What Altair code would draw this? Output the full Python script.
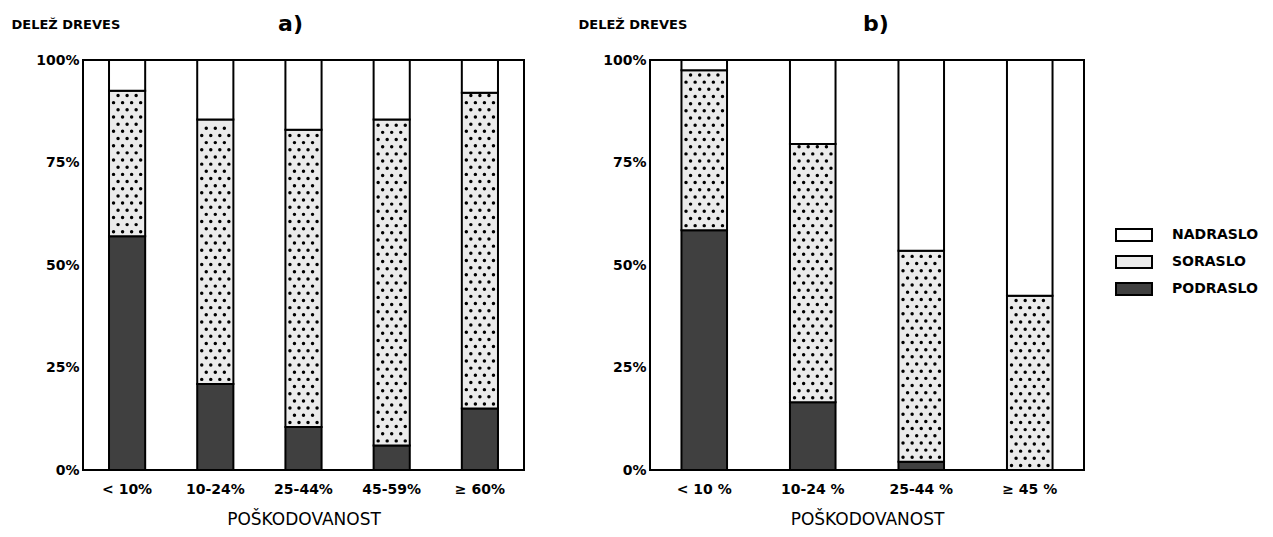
import altair as alt
import pandas as pd

groups = ["NADRASLO", "SORASLO", "PODRASLO"]
fills = ["#ffffff", "#ebebeb", "#404040"]

classes_a = ["< 10%", "10-24%", "25-44%", "45-59%", "≥ 60%"]
podraslo_a = [57, 21, 10.5, 6, 15]
soraslo_a = [35.5, 64.5, 72.5, 79.5, 77]
nadraslo_a = [7.5, 14.5, 17, 14.5, 8]

classes_b = ["< 10 %", "10-24 %", "25-44 %", "≥ 45 %"]
podraslo_b = [58.5, 16.5, 2, 0]
soraslo_b = [39, 63, 51.5, 42.5]
nadraslo_b = [2.5, 20.5, 46.5, 57.5]

FONT = "DejaVu Sans"


def make_df(classes, pod, sor, nad):
    rows = []
    for c, p, s, n in zip(classes, pod, sor, nad):
        rows.append({"cls": c, "grp": "PODRASLO", "val": p, "ord": 0})
        rows.append({"cls": c, "grp": "SORASLO", "val": s, "ord": 1})
        rows.append({"cls": c, "grp": "NADRASLO", "val": n, "ord": 2})
    return pd.DataFrame(rows)


def panel(classes, pod, sor, nad, label, w, pin, ncol, tdx):
    df = make_df(classes, pod, sor, nad)
    n = len(classes)
    # extent of the SORASLO segment of each bar (for the dotted texture)
    dfd = pd.DataFrame({
        "idx": list(range(n)),
        "lo": pod,
        "hi": [p + s for p, s in zip(pod, sor)],
    })

    x_axis = alt.Axis(
        title="POŠKODOVANOST", labelAngle=0, labelFontSize=14,
        labelFontWeight="bold", labelFont=FONT, labelPadding=12,
        titleFontSize=17, titleFontWeight="normal", titleFont=FONT,
        titlePadding=15, domain=False, ticks=False,
        labelColor="black", titleColor="black",
    )
    y_axis = alt.Axis(
        values=[0, 25, 50, 75, 100],
        labelExpr="datum.value + '%'",
        labelFontSize=14, labelFontWeight="bold", labelFont=FONT,
        labelPadding=4, domain=False, ticks=False, grid=False,
        title="DELEŽ DREVES", titleAngle=0, titleAlign="left",
        titleBaseline="middle", titleX=-72, titleY=-36,
        titleFontSize=13, titleFontWeight="bold", titleFont=FONT,
        labelColor="black", titleColor="black",
    )
    xscale = alt.Scale(paddingInner=pin, paddingOuter=pin / 2)
    yscale = alt.Scale(domain=[0, 100], nice=False)

    bars = (
        alt.Chart(df)
        .mark_bar(stroke="black", strokeWidth=2)
        .encode(
            x=alt.X("cls:N", sort=classes, scale=xscale, axis=x_axis),
            y=alt.Y("val:Q", stack="zero", scale=yscale, axis=y_axis),
            color=alt.Color(
                "grp:N",
                scale=alt.Scale(domain=groups, range=fills),
                legend=alt.Legend(
                    title=None, orient="none", legendX=1038, legendY=162,
                    symbolType="M-1.5,-0.5H1.5V0.5H-1.5Z", symbolSize=576,
                    symbolStrokeColor="black", symbolStrokeWidth=2,
                    symbolOpacity=1,
                    labelFontSize=14, labelFontWeight="bold", labelFont=FONT,
                    labelOffset=25, rowPadding=4, labelColor="black",
                ),
            ),
            order=alt.Order("ord:Q"),
        )
    )

    step = 1.75
    frac = 1 - pin
    dots = (
        alt.Chart(dfd)
        .transform_calculate(
            r=f"sequence(0, max(0, floor((datum.hi - datum.lo - 1.0) / {step}) + 1))"
        )
        .transform_flatten(["r"])
        .transform_calculate(
            yy=f"datum.lo + 1.1 + datum.r * {step}",
            c=f"datum.r % 2 == 0 ? sequence(1, {2 * ncol}, 2) : sequence(2, {2 * ncol - 1}, 2)",
        )
        .transform_filter("datum.yy < datum.hi - 0.6")
        .transform_flatten(["c"])
        .transform_calculate(
            xp=f"datum.idx + (datum.c / {2 * ncol} - 0.5) * {frac}"
        )
        .mark_point(filled=True, color="black", size=12, opacity=1, shape="circle")
        .encode(
            x=alt.X("xp:Q", scale=alt.Scale(domain=[-0.5, n - 0.5], nice=False, zero=False), axis=None),
            y=alt.Y("yy:Q", scale=yscale, axis=y_axis),
        )
    )

    return alt.layer(bars, dots).resolve_scale(x="independent").properties(
        width=w, height=410,
        title=alt.TitleParams(
            label, fontSize=22, fontWeight="bold", font=FONT,
            frame="group", anchor="middle", offset=-18, color="black", dx=tdx,
        ),
    )


pa = panel(classes_a, podraslo_a, soraslo_a, nadraslo_a, "a)", 441, 0.59, 4, -13)
pb = panel(classes_b, podraslo_b, soraslo_b, nadraslo_b, "b)", 434, 0.58, 5, 9)

chart = (
    alt.hconcat(pa, pb, spacing=52)
    .properties(padding={"left": 2, "top": 4, "right": 0, "bottom": 0})
    .configure(background="white")
    .configure_view(stroke="black", strokeWidth=2)
)

chart.save("out.html", embed_options={"renderer": "svg", "actions": False})
